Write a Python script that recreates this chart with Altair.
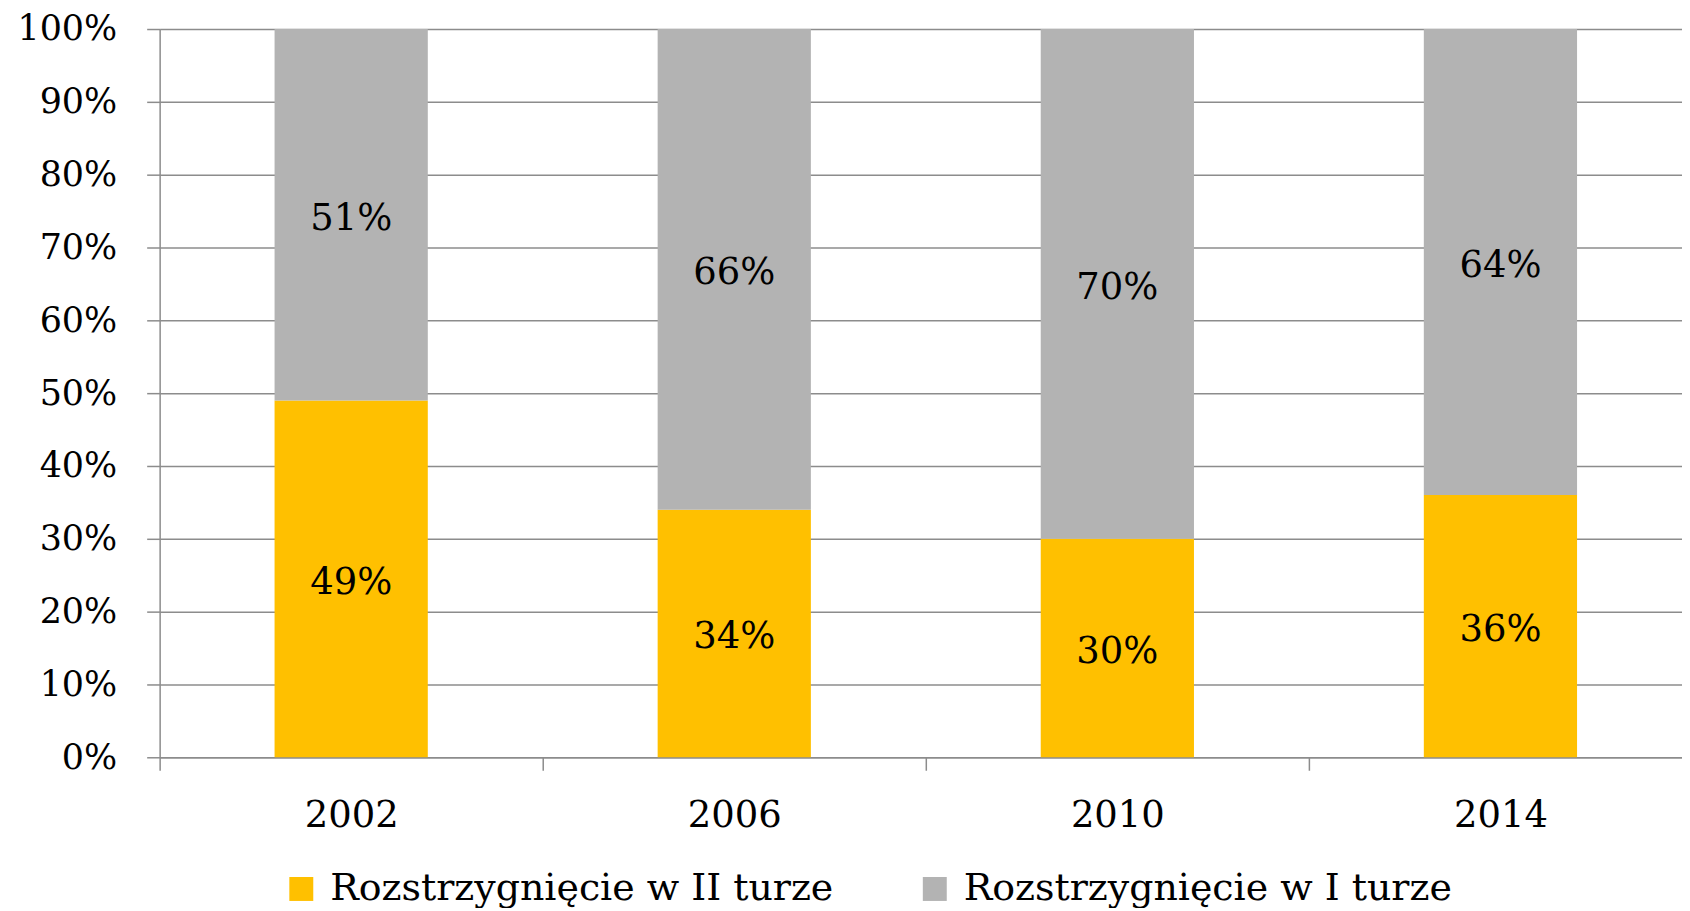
import altair as alt
import pandas as pd

years = ["2002", "2006", "2010", "2014"]
series = ["Rozstrzygnięcie w II turze", "Rozstrzygnięcie w I turze"]
second_round = [0.49, 0.34, 0.30, 0.36]
first_round = [0.51, 0.66, 0.70, 0.64]
colors = ["#FFC000", "#B3B3B3"]
y_ticks = [0, 0.1, 0.2, 0.3, 0.4, 0.5, 0.6, 0.7, 0.8, 0.9, 1.0]

rows = []
for i, y in enumerate(years):
    rows.append({"year": y, "series": series[0], "value": second_round[i], "order": 0})
    rows.append({"year": y, "series": series[1], "value": first_round[i], "order": 1})
df = pd.DataFrame(rows)

FONT = "DejaVu Serif"
FS = 37
GRID = "#8c8c8c"

base = alt.Chart(df).transform_stack(
    stack="value", groupby=["year"], as_=["v0", "v1"],
    sort=[alt.SortField("order", order="ascending")]
).transform_calculate(mid="(datum.v0 + datum.v1) / 2")

xscale = alt.Scale(paddingInner=0, paddingOuter=0, range=[0, 1536])

x = alt.X("year:N", sort=years, title=None, scale=xscale,
          axis=alt.Axis(labelAngle=0, tickBand="extent", tickSize=13, tickColor=GRID,
                        tickWidth=1.5, domainColor=GRID, domainWidth=1.5, grid=False,
                        labelFont=FONT, labelFontSize=FS, labelColor="black",
                        labelPadding=27))

bars = base.mark_bar(width=alt.RelativeBandSize(0.4)).encode(
    x=x,
    y=alt.Y("v0:Q", title=None, scale=alt.Scale(domain=[0, 1], nice=False),
            axis=alt.Axis(values=y_ticks, format=".0%", grid=True, gridColor=GRID,
                          gridWidth=1.5, tickSize=13, tickColor=GRID, tickWidth=1.5,
                          domainColor=GRID, domainWidth=1.5, labelFont=FONT,
                          labelFontSize=35, labelColor="black", labelPadding=30)),
    y2="v1:Q",
    color=alt.Color("series:N", sort=series,
                    scale=alt.Scale(domain=series, range=colors),
                    legend=alt.Legend(title=None, orient="none", direction="horizontal",
                                      legendX=123, legendY=843, symbolType="square",
                                      symbolSize=576, symbolStrokeWidth=0,
                                      labelFont=FONT, labelFontSize=38, labelColor="black",
                                      labelOffset=10, columnPadding=82, labelLimit=1000)),
)

labels = base.mark_text(font=FONT, fontSize=FS, color="black", baseline="middle", dy=4).encode(
    x=alt.X("year:N", sort=years, scale=xscale),
    y=alt.Y("mid:Q"),
    text=alt.Text("value:Q", format=".0%"),
)

chart = alt.layer(bars, labels).properties(
    width=1526, height=730,
    autosize=alt.AutoSizeParams(type="none"),
    padding={"left": 152, "top": 20, "right": 0, "bottom": 150},
).configure_view(stroke=None)

chart.save("out.html", embed_options={"renderer": "svg", "actions": False})
